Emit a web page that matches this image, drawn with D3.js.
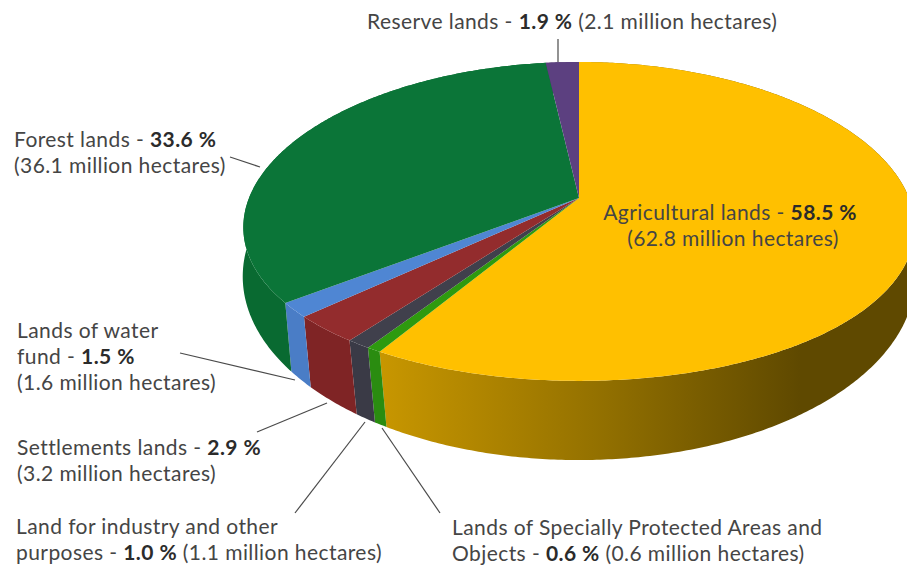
<!DOCTYPE html>
<html>
<head>
<meta charset="utf-8">
<script src="https://cdn.jsdelivr.net/npm/d3@7.9.0/dist/d3.min.js"></script>
<style>
  html, body { margin: 0; background: #fff; }
  svg { display: block; }
  text { font-family: Lato, "Open Sans", sans-serif; font-size: 21px; letter-spacing: 0.42px; fill: #454545; }
  tspan.num { font-weight: 700; fill: #2b2b2b; }
</style>
</head>
<body>
<div id="chart"></div>
<script>
const names = [
  'Agricultural lands',
  'Lands of Specially Protected Areas and Objects',
  'Land for industry and other purposes',
  'Settlements lands',
  'Lands of water fund',
  'Forest lands',
  'Reserve lands',
];
const shares = [58.5, 0.6, 1.0, 2.9, 1.5, 33.6, 1.9];
const hectares = [62.8, 0.6, 1.1, 3.2, 1.6, 36.1, 2.1];

const topColors = ['#ffc000', '#2e9a0f', '#40404c', '#932c2d', '#4f86d3', '#0b7538', '#5c4080'];
const sideColors = ['url(#gold-side)', '#2a8c10', '#3a3a46', '#7f2425', '#4a7dc6', '#096a31', '#4a3366'];

// where each label sits, same order as names
const labelLayout = [
  { x: 733, y: 220, anchor: 'middle', breaks: ['('], leader: null },
  { x: 452, y: 535, breaks: ['Objects'], leader: [[440, 513], [382, 428]] },
  { x: 16, y: 534, breaks: ['purposes'], leader: [[295, 513], [365, 422]] },
  { x: 17, y: 455, breaks: ['('], leader: [[257, 432], [327, 403]] },
  { x: 17, y: 338, breaks: ['fund', '('], leader: [[180, 353], [295, 380]] },
  { x: 14, y: 147, breaks: ['('], leader: [[230, 157], [260, 167]] },
  { x: 367, y: 29, breaks: [], leader: [[558, 39], [558, 62]] },
];

const width = 907;
const height = 569;
const lineGap = 26;

// tilted disc: the far side is squeezed, so the hub is not the middle of the ellipse
const cx = 579;
const topPlane = { y0: 198, rimX: 330, rimY: 156, squeezeX: 0.183, squeezeY: 0.147 };
const bottomPlane = { y0: 251, rimX: 333, rimY: 180, squeezeX: 0.139, squeezeY: 0.139 };

function project(angle, plane) {
  const u = Math.sin(angle);
  const v = -Math.cos(angle);
  return [
    cx + (plane.rimX * u) / (1 - plane.squeezeX * v),
    plane.y0 + (plane.rimY * v) / (1 - plane.squeezeY * v),
  ];
}

function rim(d, plane) {
  const steps = Math.max(2, Math.ceil((d.endAngle - d.startAngle) / 0.01));
  return d3.range(steps + 1).map((i) =>
    project(d.startAngle + ((d.endAngle - d.startAngle) * i) / steps, plane));
}

const slices = d3.pie().sort(null).value((d) => d)(shares);
const line = d3.line();

const svg = d3.select('#chart').append('svg')
  .attr('width', width)
  .attr('height', height)
  .attr('viewBox', `0 0 ${width} ${height}`);

const gold = svg.append('defs').append('linearGradient')
  .attr('id', 'gold-side')
  .attr('gradientUnits', 'userSpaceOnUse')
  .attr('x1', 383).attr('x2', 800).attr('y1', 0).attr('y2', 0);
gold.append('stop').attr('offset', 0).attr('stop-color', '#c79600');
gold.append('stop').attr('offset', 0.5).attr('stop-color', '#957200');
gold.append('stop').attr('offset', 1).attr('stop-color', '#5f4900');

svg.append('g').attr('class', 'sides')
  .selectAll('path')
  .data(slices)
  .join('path')
  .attr('d', (d) => line([...rim(d, topPlane), ...rim(d, bottomPlane).reverse()]) + 'Z')
  .attr('fill', (d, i) => sideColors[i]);

svg.append('g').attr('class', 'tops')
  .selectAll('path')
  .data(slices)
  .join('path')
  .attr('d', (d) => line([[cx, topPlane.y0], ...rim(d, topPlane)]) + 'Z')
  .attr('fill', (d, i) => topColors[i]);

svg.append('g').attr('class', 'leaders')
  .selectAll('path')
  .data(labelLayout.filter((d) => d.leader))
  .join('path')
  .attr('d', (d) => line(d.leader))
  .attr('fill', 'none')
  .attr('stroke', '#4a4a4a')
  .attr('stroke-width', 1.2);

// one text per label, the share goes bold
names.forEach((name, i) => {
  const layout = labelLayout[i];
  let rest = `${name} - @${shares[i].toFixed(1)} %@ (${hectares[i].toFixed(1)} million hectares)`;
  layout.breaks.forEach((b) => { rest = rest.replace(b, '\n' + b); });

  const label = svg.append('text')
    .attr('x', layout.x)
    .attr('y', layout.y)
    .attr('text-anchor', layout.anchor || 'start');

  rest.split('\n').forEach((row, r) => {
    row.split('@').forEach((part, p) => {
      const span = label.append('tspan')
        .attr('class', p === 1 ? 'num' : null)
        .text(part);
      if (p === 0) span.attr('x', layout.x).attr('y', layout.y + r * lineGap);
    });
  });
});
</script>
</body>
</html>
